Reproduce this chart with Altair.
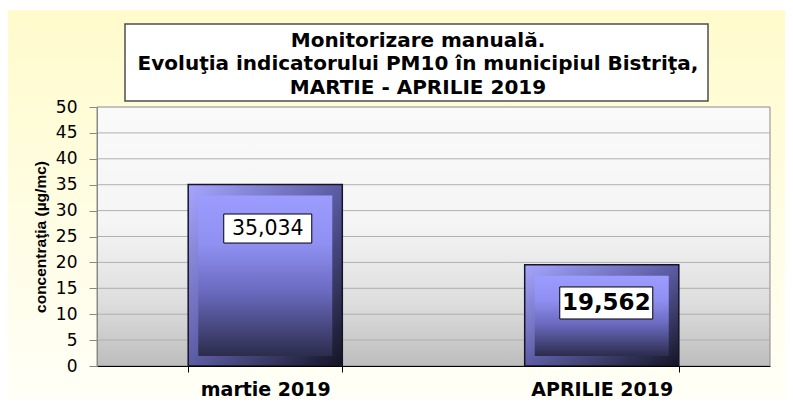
import altair as alt
import pandas as pd

# ---- data ----
categories = ["martie 2019", "APRILIE 2019"]
values = [35.034, 19.562]
value_labels = ["35,034", "19,562"]
y_ticks = [0, 5, 10, 15, 20, 25, 30, 35, 40, 45, 50]
title_lines = [
    "Monitorizare manuală.",
    "Evoluţia indicatorului PM10 în municipiul Bistriţa,",
    "MARTIE - APRILIE 2019",
]
y_title = "concentraţia (µg/mc)"

df = pd.DataFrame({"cat": categories, "val": values, "lab": value_labels})
grid_df = pd.DataFrame({"val": y_ticks[1:-1]})
one = pd.DataFrame({"a": [0]})

W, H = 673, 259
FONT = "DejaVu Sans"


def grad(stops, x2=0, y2=1):
    return alt.Gradient(
        gradient="linear", x1=0, y1=0, x2=x2, y2=y2,
        stops=[alt.GradientStop(color=c, offset=o) for o, c in stops],
    )


xscale = alt.Scale(domain=categories, paddingInner=0.542, paddingOuter=0.271)
yscale = alt.Scale(domain=[0, 50], nice=False, zero=True)

x_axis = alt.Axis(
    title=None, labelAngle=0, labelFont=FONT, labelFontSize=19,
    labelFontWeight="bold", labelColor="black", tickBand="extent",
    tickSize=6, tickColor="black", domainColor="black", domainWidth=1.2,
    labelPadding=8, grid=False, zindex=1,
)
y_axis = alt.Axis(
    title=y_title, values=y_ticks, grid=False, zindex=1,
    labelFont=FONT, labelFontSize=17, labelColor="black", labelPadding=12,
    tickSize=8, tickColor="#888888", domainColor="#888888",
    titleFont="Liberation Sans", titleFontSize=15.5, titleFontWeight="bold",
    titleColor="black", titleX=-57, titleY=129.5, titleAngle=270,
    titleAlign="center", titleBaseline="middle",
)

X = alt.X("cat:N", scale=xscale, sort=categories, axis=x_axis)
Y = alt.Y("val:Q", scale=yscale, axis=y_axis)

# outer cream background
outer_bg = alt.Chart(one).mark_rect(
    fill=grad([(0, "#fffbcc"), (0.6, "#fffde6"), (1, "#fffff7")])
).encode(x=alt.value(-89), x2=alt.value(W + 15), y=alt.value(-97), y2=alt.value(H + 33))

# plot area background
plot_bg = alt.Chart(one).mark_rect(
    fill=grad([(0, "#fafafa"), (0.45, "#f5f5f5"), (0.75, "#dedede"), (1, "#bdbdbd")]),
    stroke="#8a8a8a", strokeWidth=1,
).encode(x=alt.value(0), x2=alt.value(W), y=alt.value(0), y2=alt.value(H))

grid = alt.Chart(grid_df).mark_rule(color="#b0b0b0", strokeWidth=1).encode(y=Y)

# title box
title_box = alt.Chart(one).mark_rect(
    fill="white", stroke="#4d4d4d", strokeWidth=1.5
).encode(x=alt.value(28), x2=alt.value(611), y=alt.value(-83), y2=alt.value(-6))

title_text = alt.Chart(one).mark_text(
    text=title_lines, font=FONT, fontSize=20, fontWeight="bold",
    lineHeight=23.5, align="center", baseline="alphabetic", color="black",
).encode(x=alt.value(321), y=alt.value(-60.5))

# bars: bevel + face
bar_outer = alt.Chart(df).mark_bar(
    fill=grad([(0, "#a6a6ff"), (0.5, "#5c5ca4"), (1, "#141424")], x2=1, y2=1),
    stroke="#15152a", strokeWidth=1.5,
).encode(x=X, y=Y)

bar_face = alt.Chart(df).mark_bar(
    fill=grad([(0, "#9c9cff"), (0.3, "#9090f2"), (0.6, "#6a6ac0"), (1, "#2c2c4c")]),
    width=134, yOffset=11, y2Offset=-10,
).encode(x=X, y=Y, y2=alt.datum(0))

# label boxes and texts
box1 = alt.Chart(df).transform_filter(alt.datum.cat == categories[0]).mark_bar(
    fill="white", stroke="black", strokeWidth=1,
    width=88, xOffset=2.5, yOffset=29.5, y2Offset=58.5,
).encode(x=X, y=Y, y2=alt.Y2("val:Q"))

box2 = alt.Chart(df).transform_filter(alt.datum.cat == categories[1]).mark_bar(
    fill="white", stroke="black", strokeWidth=1,
    width=93, xOffset=4.5, yOffset=22.3, y2Offset=54.3,
).encode(x=X, y=Y, y2=alt.Y2("val:Q"))

txt1 = alt.Chart(df).transform_filter(alt.datum.cat == categories[0]).mark_text(
    font=FONT, fontSize=20.5, color="black", baseline="middle", align="center",
    dx=2.5, dy=44.5,
).encode(x=X, y=Y, text="lab:N")

txt2 = alt.Chart(df).transform_filter(alt.datum.cat == categories[1]).mark_text(
    font=FONT, fontSize=23, fontWeight="bold", color="black", baseline="middle",
    align="center", dx=4.5, dy=38.5,
).encode(x=X, y=Y, text="lab:N")

chart = alt.layer(
    outer_bg, plot_bg, grid, title_box, title_text,
    bar_outer, bar_face, box1, box2, txt1, txt2,
).properties(
    width=W, height=H,
    autosize=alt.AutoSizeParams(type="none"),
    padding={"left": 89, "top": 99, "right": 15, "bottom": 33},
    background="white",
).configure_view(stroke=None)

chart.save("out.html", embed_options={"renderer": "svg", "actions": False})
